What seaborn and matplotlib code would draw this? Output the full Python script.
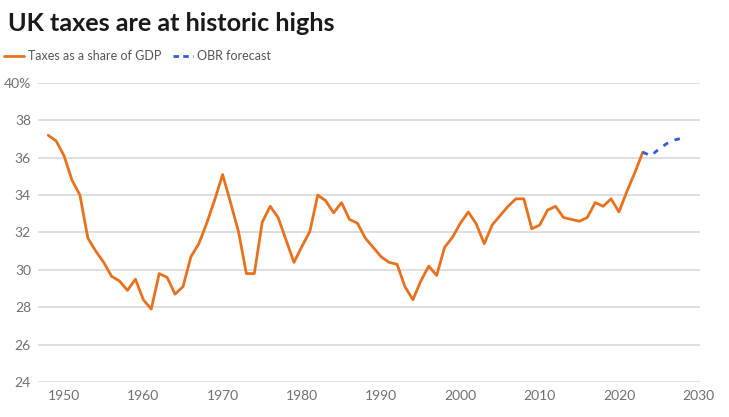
import matplotlib
matplotlib.use("Agg")
import matplotlib.pyplot as plt
import seaborn as sns
import pandas as pd
from matplotlib.lines import Line2D

years = list(range(1948, 2024))
taxes = [37.2, 36.9, 36.1, 34.8, 34.0, 31.7, 31.0, 30.4, 29.65, 29.4,
         28.9, 29.5, 28.4, 27.9, 29.8, 29.6, 28.7, 29.1, 30.7, 31.4,
         32.5, 33.75, 35.1, 33.6, 32.05, 29.8, 29.8, 32.55, 33.4, 32.8,
         31.6, 30.4, 31.25, 32.05, 34.0, 33.7, 33.05, 33.6, 32.7, 32.5,
         31.7, 31.2, 30.7, 30.4, 30.3, 29.1, 28.4, 29.4, 30.2, 29.7,
         31.2, 31.75, 32.5, 33.1, 32.45, 31.4, 32.4, 32.9, 33.4, 33.8,
         33.8, 32.2, 32.4, 33.2, 33.4, 32.8, 32.7, 32.6, 32.8, 33.6,
         33.4, 33.8, 33.1, 34.2, 35.2, 36.3]
forecast_years = [2023, 2024, 2025, 2026, 2027, 2028]
forecast = [36.3, 36.1, 36.45, 36.75, 36.95, 37.05]
yticks = [24, 26, 28, 30, 32, 34, 36, 38, 40]
ytick_labels = ["24", "26", "28", "30", "32", "34", "36", "38", "40%"]
xticks = [1950, 1960, 1970, 1980, 1990, 2000, 2010, 2020, 2030]

sns.set_style("white")
plt.rcParams["font.family"] = ["Lato", "DejaVu Sans"]

orange = "#E8711E"
blue = "#2F5FD6"
grey = "#707070"

fig = plt.figure(figsize=(7.29, 4.17), dpi=100)
ax = fig.add_axes([0.052, 0.084, 0.908, 0.717])

df = pd.DataFrame({"year": years, "value": taxes})
dff = pd.DataFrame({"year": forecast_years, "value": forecast})
sns.lineplot(data=df, x="year", y="value", ax=ax, color=orange, linewidth=2.0, zorder=3)
sns.lineplot(data=dff, x="year", y="value", ax=ax, color=blue, linewidth=2.0,
             linestyle=(0, (2, 2.5)), zorder=3)

ax.set_xlim(1946.7, 2030.2)
ax.set_ylim(24, 40)
ax.set_yticks(yticks)
ax.set_yticklabels(ytick_labels)
ax.set_xticks(xticks)
ax.set_xlabel("")
ax.set_ylabel("")
for s in ax.spines.values():
    s.set_visible(False)
ax.grid(axis="y", color="#d9d9d9", linewidth=1.2)
ax.grid(axis="x", visible=False)
ax.set_axisbelow(True)
ax.tick_params(axis="both", length=0, labelsize=10, labelcolor=grey)
ax.tick_params(axis="y", pad=5)
ax.tick_params(axis="x", pad=6)

fig.text(0.011, 0.925, "UK taxes are at historic highs", fontsize=18.2,
         fontweight="bold", color="#1a1a1a", ha="left", va="baseline")

handles = [Line2D([0], [0], color=orange, linewidth=2),
           Line2D([0], [0], color=blue, linewidth=2, linestyle=(0, (2, 1.5)))]
fig.legend(handles, ["Taxes as a share of GDP", "OBR forecast"],
           loc="center left", bbox_to_anchor=(0.0, 0.866), ncol=2, frameon=False,
           fontsize=9, handlelength=1.6, handletextpad=0.35, columnspacing=0.9,
           labelcolor="#555555", borderaxespad=0, borderpad=0.3)

fig.savefig("out.png", dpi=100)
